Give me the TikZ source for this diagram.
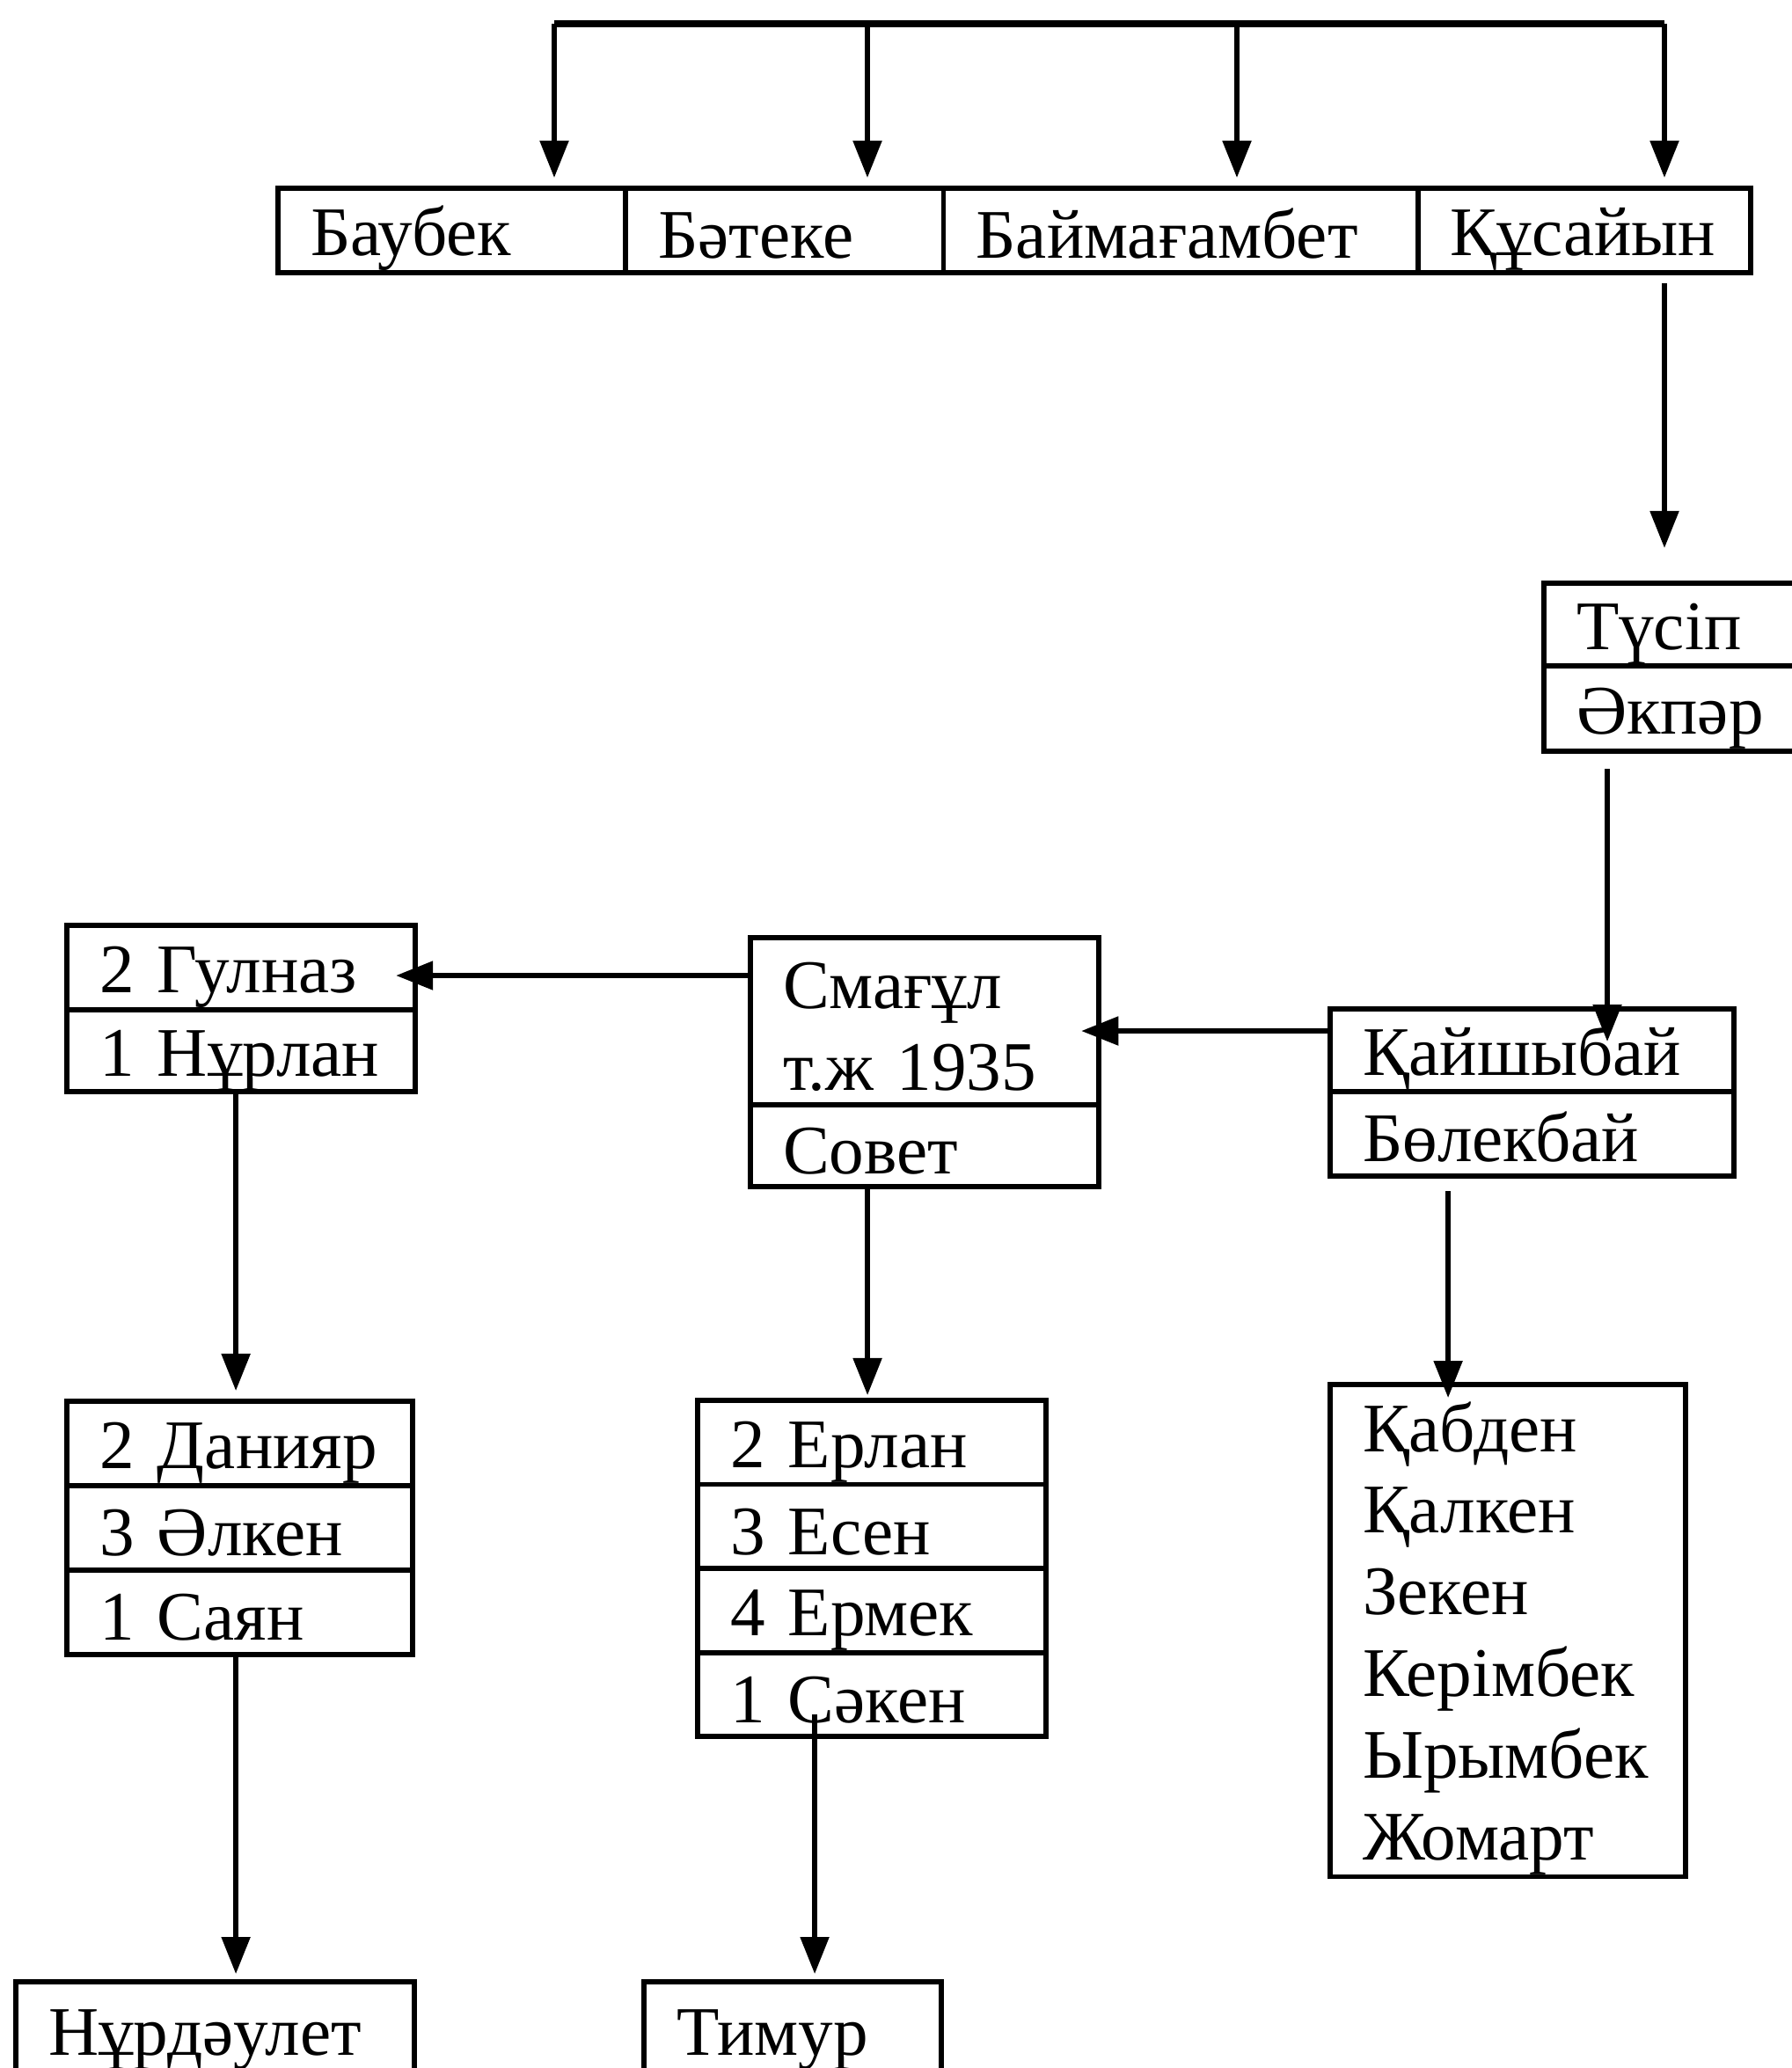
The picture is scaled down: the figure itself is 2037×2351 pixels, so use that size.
\documentclass[tikz,border=0pt]{standalone}
\usepackage{fontspec}
\setmainfont{Liberation Serif}
\usetikzlibrary{arrows.meta}
\newcommand\cellstrut{\rule[-3pt]{0pt}{24pt}}

\begin{document}
\begin{tikzpicture}[x=0.01cm, y=-0.01cm,
        cell/.style 2 args={draw, line width=1.6pt, rectangle, anchor=north west, outer sep=0pt,
            inner xsep=0.37cm, inner ysep=0pt, text width=#1, minimum height=#2, align=left,
            font=\fontsize{22.5}{26.4}\selectfont,
            execute at begin node=\cellstrut, execute at end node=\cellstrut},
        wire/.style={line width=1.5pt},
        arr/.style={wire, -{Triangle[length=0.42cm, width=0.32cm]}}]
                \useasboundingbox (0,0) rectangle (2037,2351);
                \node[cell={3.21cm}{0.96cm}] (bau) at (316,214) {Баубек};
                \node[cell={2.87cm}{0.96cm}] (bat) at (bau.north east) {Бәтеке};
                \node[cell={4.65cm}{0.96cm}] (bai) at (bat.north east) {Баймағамбет};
                \node[cell={3.04cm}{0.96cm}] (kus) at (bai.north east) {Құсайын};
                \node[cell={2.16cm}{0.94cm}] (tus) at (1755,663) {Түсіп};
                \node[cell={2.16cm}{0.97cm}] (eks) at (tus.south west) {Әкпәр};
                \node[cell={3.85cm}{0.94cm}] (kai) at (1512,1147) {Қайшыбай};
                \node[cell={3.85cm}{0.96cm}] (bol) at (kai.south west) {Бөлекбай};
                \node[cell={3.22cm}{1.90cm}] (sma) at (853,1066) {Смағұл\\т.ж 1935};
                \node[cell={3.22cm}{0.93cm}] (sov) at (sma.south west) {Совет};
                \node[cell={3.22cm}{0.96cm}] (gul) at (76,1052) {2 Гулназ};
                \node[cell={3.22cm}{0.93cm}] (nur) at (gul.south west) {1 Нұрлан};
                \node[cell={3.19cm}{0.96cm}] (dan) at (76,1593) {2 Данияр};
                \node[cell={3.19cm}{0.96cm}] (alk) at (dan.south west) {3 Әлкен};
                \node[cell={3.19cm}{0.96cm}] (say) at (alk.south west) {1 Саян};
                \node[cell={3.22cm}{0.955cm}] (erl) at (793,1592) {2 Ерлан};
                \node[cell={3.22cm}{0.955cm}] (ese) at (erl.south west) {3 Есен};
                \node[cell={3.22cm}{0.955cm}] (erm) at (ese.south west) {4 Ермек};
                \node[cell={3.22cm}{0.955cm}] (sak) at (erm.south west) {1 Сәкен};
                \node[cell={3.79cm}{1.10cm}] (nrd) at (18,2253) {Нұрдәулет};
                \node[cell={2.64cm}{1.10cm}] (tim) at (732,2253) {Тимур};
                \node[cell={3.30cm}{5.59cm}] (lst) at (1512,1574) {Қабден\\Қалкен\\Зекен\\Керімбек\\Ырымбек\\Жомарт};
                \coordinate (t1) at (630,27);
                \coordinate (t2) at (986,27);
                \coordinate (t3) at (1406,27);
                \coordinate (t4) at (1892,27);
                \draw[wire, line width=2pt] (t1) -- (t4);
                \draw[arr, shorten >=0.12cm] (t1) -- (t1 |- bau.north);
                \draw[arr, shorten >=0.12cm] (t2) -- (t2 |- bat.north);
                \draw[arr, shorten >=0.12cm] (t3) -- (t3 |- bai.north);
                \draw[arr, shorten >=0.12cm] (t4) -- (t4 |- kus.north);
                \draw[arr, shorten <=0.12cm, shorten >=0.4cm] (t4 |- kus.south) -- (t4 |- tus.north);
                \draw[arr, shorten <=0.2cm, shorten >=-0.37cm] ([xshift=0.72cm]eks.south west) -- ([xshift=0.72cm]eks.south west |- kai.north);
                \draw[arr, shorten >=-0.2cm] ([yshift=0.22cm]kai.west) -- ([yshift=0.22cm]kai.west -| sma.east);
                \draw[arr, shorten >=-0.22cm] ([yshift=0.52cm]sma.west) -- ([yshift=0.52cm]sma.west -| gul.east);
                \draw[arr, shorten >=0.12cm] ([xshift=1.92cm]nur.south west) -- ([xshift=1.92cm]nur.south west |- dan.north);
                \draw[arr, shorten >=0.09cm] ([xshift=1.92cm]say.south west) -- ([xshift=1.92cm]say.south west |- nrd.north);
                \draw[arr, shorten >=0.06cm] ([xshift=1.33cm]sov.south west) -- ([xshift=1.33cm]sov.south west |- erl.north);
                \draw[arr, shorten <=-0.25cm, shorten >=0.09cm] ([xshift=1.33cm]sak.south west) -- ([xshift=1.33cm]sak.south west |- tim.north);
                \draw[arr, shorten <=0.17cm, shorten >=-0.15cm] ([xshift=1.34cm]bol.south west) -- ([xshift=1.34cm]bol.south west |- lst.north);
\end{tikzpicture}
\end{document}
